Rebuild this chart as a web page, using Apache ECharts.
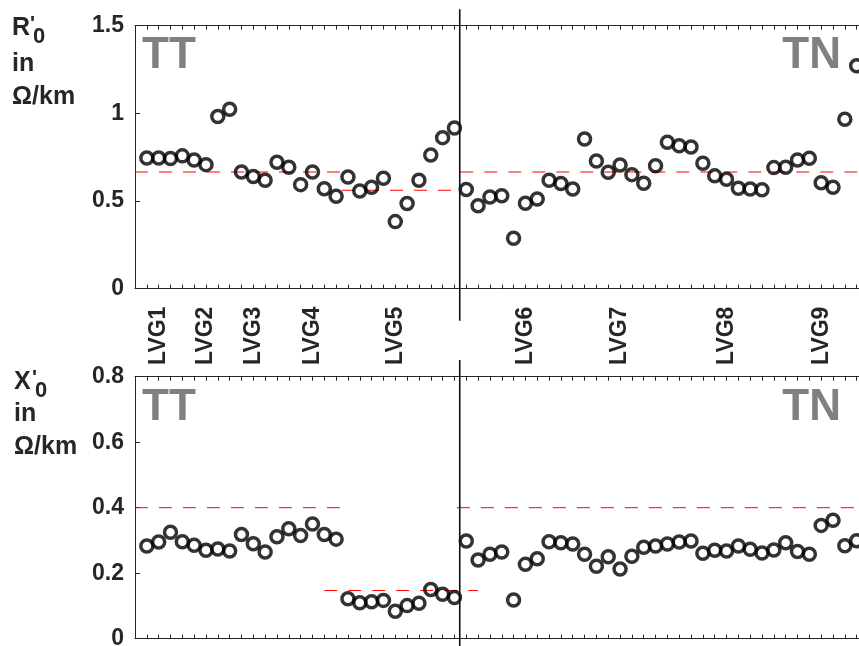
<!DOCTYPE html>
<html>
<head>
<meta charset="utf-8">
<script src="https://cdn.jsdelivr.net/npm/echarts@6/dist/echarts.min.js"></script>
<style>
html,body{margin:0;padding:0;background:#fff;}
#chart{width:859px;height:646px;}
</style>
</head>
<body>
<div id="chart"></div>
<script>
// ---- data ----
const xIndex = [];
for (let i = 1; i <= 61; i++) xIndex.push(i);

const r0Values = [0.745,0.745,0.742,0.757,0.734,0.707,0.981,1.023,0.665,0.639,
  0.618,0.721,0.692,0.593,0.665,0.570,0.527,0.637,0.557,0.578,
  0.629,0.382,0.485,0.618,0.762,0.861,0.916,0.565,0.473,0.523,
  0.530,0.287,0.487,0.511,0.618,0.599,0.568,0.853,0.728,0.664,
  0.705,0.650,0.601,0.701,0.835,0.815,0.808,0.715,0.643,0.624,
  0.572,0.568,0.564,0.690,0.692,0.734,0.743,0.604,0.578,0.966,1.271];

const x0Values = [0.283,0.295,0.325,0.296,0.285,0.270,0.274,0.268,0.318,0.290,
  0.265,0.311,0.336,0.315,0.350,0.318,0.304,0.122,0.110,0.113,
  0.117,0.084,0.101,0.108,0.150,0.136,0.126,0.298,0.240,0.258,
  0.265,0.118,0.227,0.244,0.296,0.293,0.289,0.258,0.221,0.250,
  0.213,0.252,0.279,0.283,0.289,0.295,0.298,0.261,0.270,0.268,
  0.283,0.273,0.262,0.271,0.293,0.266,0.258,0.346,0.362,0.284,0.299];

const r0Means = [0.665, 0.561, 0.665];
const r0MeanStart = [0, 17.5, 27.5];
const r0MeanEnd = [17.5, 27, 62];

const x0Means = [0.40, 0.147, 0.40];
const x0MeanStart = [0, 16, 27.2];
const x0MeanEnd = [18.2, 29, 62];

const lvgNames = ['LVG1','LVG2','LVG3','LVG4','LVG5','LVG6','LVG7','LVG8','LVG9'];
const lvgPos = [2, 6, 10, 15, 22, 33, 41, 50, 58];

const splitPos = 27.45;

// ---- chart ----
const FONT = "'Liberation Sans', Arial, sans-serif";
const AX = '#262626';
const chart = echarts.init(document.getElementById('chart'), null, {renderer: 'canvas'});

function pts(xs, ys) { return xs.map((x, i) => [x, ys[i]]); }

const lvgMap = {};
lvgPos.forEach((p, i) => { lvgMap[p] = lvgNames[i]; });

function xAxisDef(gridIndex, position, withLabels) {
  return {
    type: 'value', gridIndex, position, min: 0, max: 62, interval: 1,
    axisLine: {show: true, lineStyle: {color: AX, width: 1}},
    axisTick: {show: true, inside: true, length: 4, lineStyle: {color: AX, width: 1}},
    splitLine: {show: false},
    axisLabel: withLabels ? {
      show: true, interval: 0, rotate: 90, margin: 18,
      fontFamily: FONT, fontWeight: 'bold', fontSize: 23, color: AX,
      formatter: v => lvgMap[v] || ''
    } : {show: false}
  };
}

function yAxisDef(gridIndex, max, interval) {
  return {
    type: 'value', gridIndex, min: 0, max, interval,
    axisLine: {show: true, lineStyle: {color: AX, width: 1}},
    axisTick: {show: true, inside: true, length: 5, lineStyle: {color: AX, width: 1}},
    splitLine: {show: false},
    axisLabel: {show: true, margin: 11, fontFamily: FONT, fontWeight: 'bold', fontSize: 23, color: AX}
  };
}

const meanSeries = [];
function addMeans(means, starts, ends, xi, yi) {
  means.forEach((m, i) => {
    meanSeries.push({
      type: 'line', xAxisIndex: xi, yAxisIndex: yi, symbol: 'none', silent: true,
      data: [[starts[i], m], [ends[i], m]],
      lineStyle: {color: '#ff0000', width: 1, type: [13, 11]},
      z: 3, animation: false
    });
  });
}
addMeans(r0Means, r0MeanStart, r0MeanEnd, 0, 0);
addMeans(x0Means, x0MeanStart, x0MeanEnd, 2, 1);

const scatterStyle = {
  type: 'scatter', symbol: 'circle', symbolSize: 12,
  itemStyle: {color: 'rgba(255,255,255,0)', borderColor: '#000', borderWidth: 3.5},
  z: 4, animation: false
};

const option = {
  animation: false,
  backgroundColor: '#fff',
  grid: [
    {left: 135, top: 25.6, width: 733.5, height: 263, containLabel: false, outerBoundsMode: 'none'},
    {left: 135, top: 376.7, width: 733.5, height: 262, containLabel: false, outerBoundsMode: 'none'}
  ],
  xAxis: [
    xAxisDef(0, 'bottom', true),
    xAxisDef(0, 'top', false),
    xAxisDef(1, 'bottom', false),
    xAxisDef(1, 'top', false)
  ],
  yAxis: [
    yAxisDef(0, 1.5, 0.5),
    yAxisDef(1, 0.8, 0.2)
  ],
  series: [
    Object.assign({}, scatterStyle, {xAxisIndex: 0, yAxisIndex: 0, data: pts(xIndex, r0Values)}),
    Object.assign({}, scatterStyle, {xAxisIndex: 2, yAxisIndex: 1, data: pts(xIndex, x0Values)})
  ].concat(meanSeries)
};
chart.setOption(option);

// ---- annotations ----
const sx0 = chart.convertToPixel({xAxisIndex: 0}, splitPos);
const sx1 = chart.convertToPixel({xAxisIndex: 2}, splitPos);

function txt(text, x, y, size, color, align) {
  return {
    type: 'text', x, y, silent: true, z: 10,
    style: {text, fontFamily: FONT, fontWeight: 'bold', fontSize: size, fill: color,
            align: align || 'left', verticalAlign: 'middle'}
  };
}

const graphics = [
  {type: 'line', silent: true, z: 5, shape: {x1: sx0, y1: 9.3, x2: sx0, y2: 320.7}, style: {stroke: '#111', lineWidth: 1.6}},
  {type: 'line', silent: true, z: 5, shape: {x1: sx1, y1: 360, x2: sx1, y2: 660}, style: {stroke: '#111', lineWidth: 1.6}},
  txt('TT', 142, 56, 44, '#808080', 'left'),
  txt('TN', 841, 56, 44, '#808080', 'right'),
  txt('TT', 142, 407.5, 44, '#808080', 'left'),
  txt('TN', 841, 407.5, 44, '#808080', 'right'),
  // top y label
  txt('R', 12, 28.5, 25, AX),
  txt("'", 30, 24, 21, AX),
  txt('0', 33, 36.5, 22, AX),
  txt('in', 12, 64, 25, AX),
  txt('Ω/km', 12, 97.5, 25, AX),
  // bottom y label
  txt('X', 14, 382.5, 25, AX),
  txt("'", 32, 378, 21, AX),
  txt('0', 35, 390.5, 22, AX),
  txt('in', 14, 414, 25, AX),
  txt('Ω/km', 14, 447.5, 25, AX)
];
chart.setOption({graphic: graphics});
</script>
</body>
</html>
